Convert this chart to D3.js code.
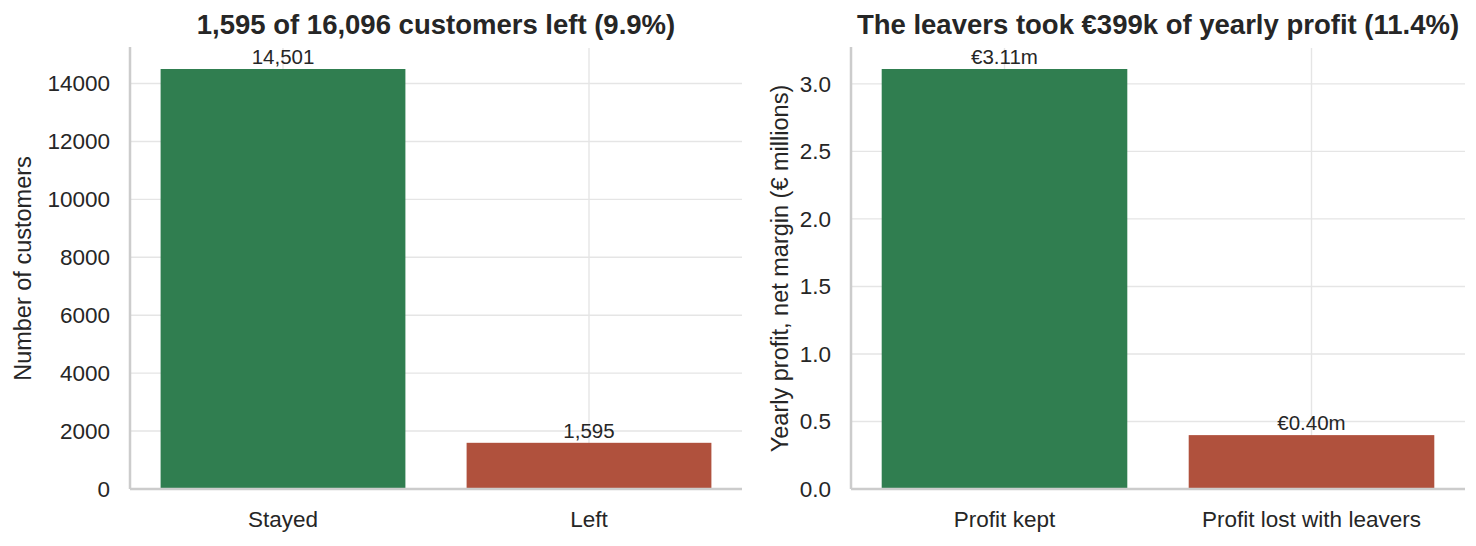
<!DOCTYPE html>
<html>
<head>
<meta charset="utf-8">
<script src="https://cdn.jsdelivr.net/npm/d3@7"></script>
<style>
  body { margin: 0; background: #fff; }
  text { font-family: "Liberation Sans", Arial, sans-serif; fill: #262626; }
</style>
</head>
<body>
<div id="chart"></div>
<script>
// data
var customerCats = ["Stayed", "Left"];
var customerVals = [14501, 1595];
var customerLabels = ["14,501", "1,595"];
var customerTicks = [0, 2000, 4000, 6000, 8000, 10000, 12000, 14000];

var profitCats = ["Profit kept", "Profit lost with leavers"];
var profitVals = [3.11, 0.399];
var profitLabels = ["€3.11m", "€0.40m"];
var profitTicks = [0, 0.5, 1.0, 1.5, 2.0, 2.5, 3.0];

var barColors = ["#307e50", "#b0513d"];

var svg = d3.select("#chart")
  .append("svg")
    .attr("width", 1476)
    .attr("height", 546);

function drawPanel(opt) {
  var left = opt.left, right = opt.right, top = 48, bottom = 489;
  var g = svg.append("g");

  var x = d3.scaleBand()
    .domain(opt.cats)
    .range([left, right])
    .padding(0.2)
    .paddingOuter(0.1);

  var y = d3.scaleLinear()
    .domain([0, d3.max(opt.vals) * 1.05])
    .range([bottom, top]);

  // grid
  g.selectAll(".hgrid")
    .data(opt.ticks)
    .enter().append("line")
    .attr("x1", left).attr("x2", right)
    .attr("y1", function(d) { return y(d); })
    .attr("y2", function(d) { return y(d); })
    .attr("stroke", "#e5e5e5")
    .attr("stroke-width", 1.4);

  g.selectAll(".vgrid")
    .data(opt.cats)
    .enter().append("line")
    .attr("x1", function(d) { return x(d) + x.bandwidth() / 2; })
    .attr("x2", function(d) { return x(d) + x.bandwidth() / 2; })
    .attr("y1", top).attr("y2", bottom)
    .attr("stroke", "#e5e5e5")
    .attr("stroke-width", 1.4);

  // bars
  g.selectAll(".bar")
    .data(opt.vals)
    .enter().append("rect")
    .attr("x", function(d, i) { return x(opt.cats[i]); })
    .attr("y", function(d) { return y(d); })
    .attr("width", x.bandwidth())
    .attr("height", function(d) { return bottom - y(d); })
    .attr("fill", function(d, i) { return barColors[i]; });

  // bar labels
  g.selectAll(".blab")
    .data(opt.vals)
    .enter().append("text")
    .attr("x", function(d, i) { return x(opt.cats[i]) + x.bandwidth() / 2; })
    .attr("y", function(d) { return y(d) - 5; })
    .attr("text-anchor", "middle")
    .style("font-size", "20.5px")
    .text(function(d, i) { return opt.labels[i]; });

  // axes
  var yAxis = g.append("g")
    .attr("transform", "translate(" + left + ",0)")
    .call(d3.axisLeft(y).tickValues(opt.ticks).tickSize(0).tickPadding(20).tickFormat(opt.fmt));
  yAxis.select(".domain").remove();
  yAxis.selectAll("text").style("font-size", "22.5px").attr("fill", "#262626");

  var xAxis = g.append("g")
    .attr("transform", "translate(0," + bottom + ")")
    .call(d3.axisBottom(x).tickSize(0));
  xAxis.select(".domain").remove();
  xAxis.selectAll("text")
    .attr("y", 38).attr("dy", null)
    .style("font-size", "22.5px").attr("fill", "#262626");

  // spines
  g.append("line")
    .attr("x1", left).attr("x2", left)
    .attr("y1", top - 1).attr("y2", bottom)
    .attr("stroke", "#cccccc").attr("stroke-width", 2.5);
  g.append("line")
    .attr("x1", left).attr("x2", right)
    .attr("y1", bottom).attr("y2", bottom)
    .attr("stroke", "#cccccc").attr("stroke-width", 2.5);

  // title
  g.append("text")
    .attr("x", (left + right) / 2)
    .attr("y", 34)
    .attr("text-anchor", "middle")
    .style("font-size", "27.5px")
    .style("font-weight", "bold")
    .text(opt.title);

  // y label
  g.append("text")
    .attr("transform", "translate(" + opt.ylabX + "," + (top + bottom) / 2 + ") rotate(-90)")
    .attr("text-anchor", "middle")
    .style("font-size", "23.5px")
    .text(opt.ylabel);
}

drawPanel({
  left: 130, right: 742,
  cats: customerCats, vals: customerVals, labels: customerLabels, ticks: customerTicks,
  fmt: d3.format("d"),
  title: "1,595 of 16,096 customers left (9.9%)",
  ylabel: "Number of customers", ylabX: 31
});

drawPanel({
  left: 851, right: 1465,
  cats: profitCats, vals: profitVals, labels: profitLabels, ticks: profitTicks,
  fmt: d3.format(".1f"),
  title: "The leavers took €399k of yearly profit (11.4%)",
  ylabel: "Yearly profit, net margin (€ millions)", ylabX: 788
});
</script>
</body>
</html>
